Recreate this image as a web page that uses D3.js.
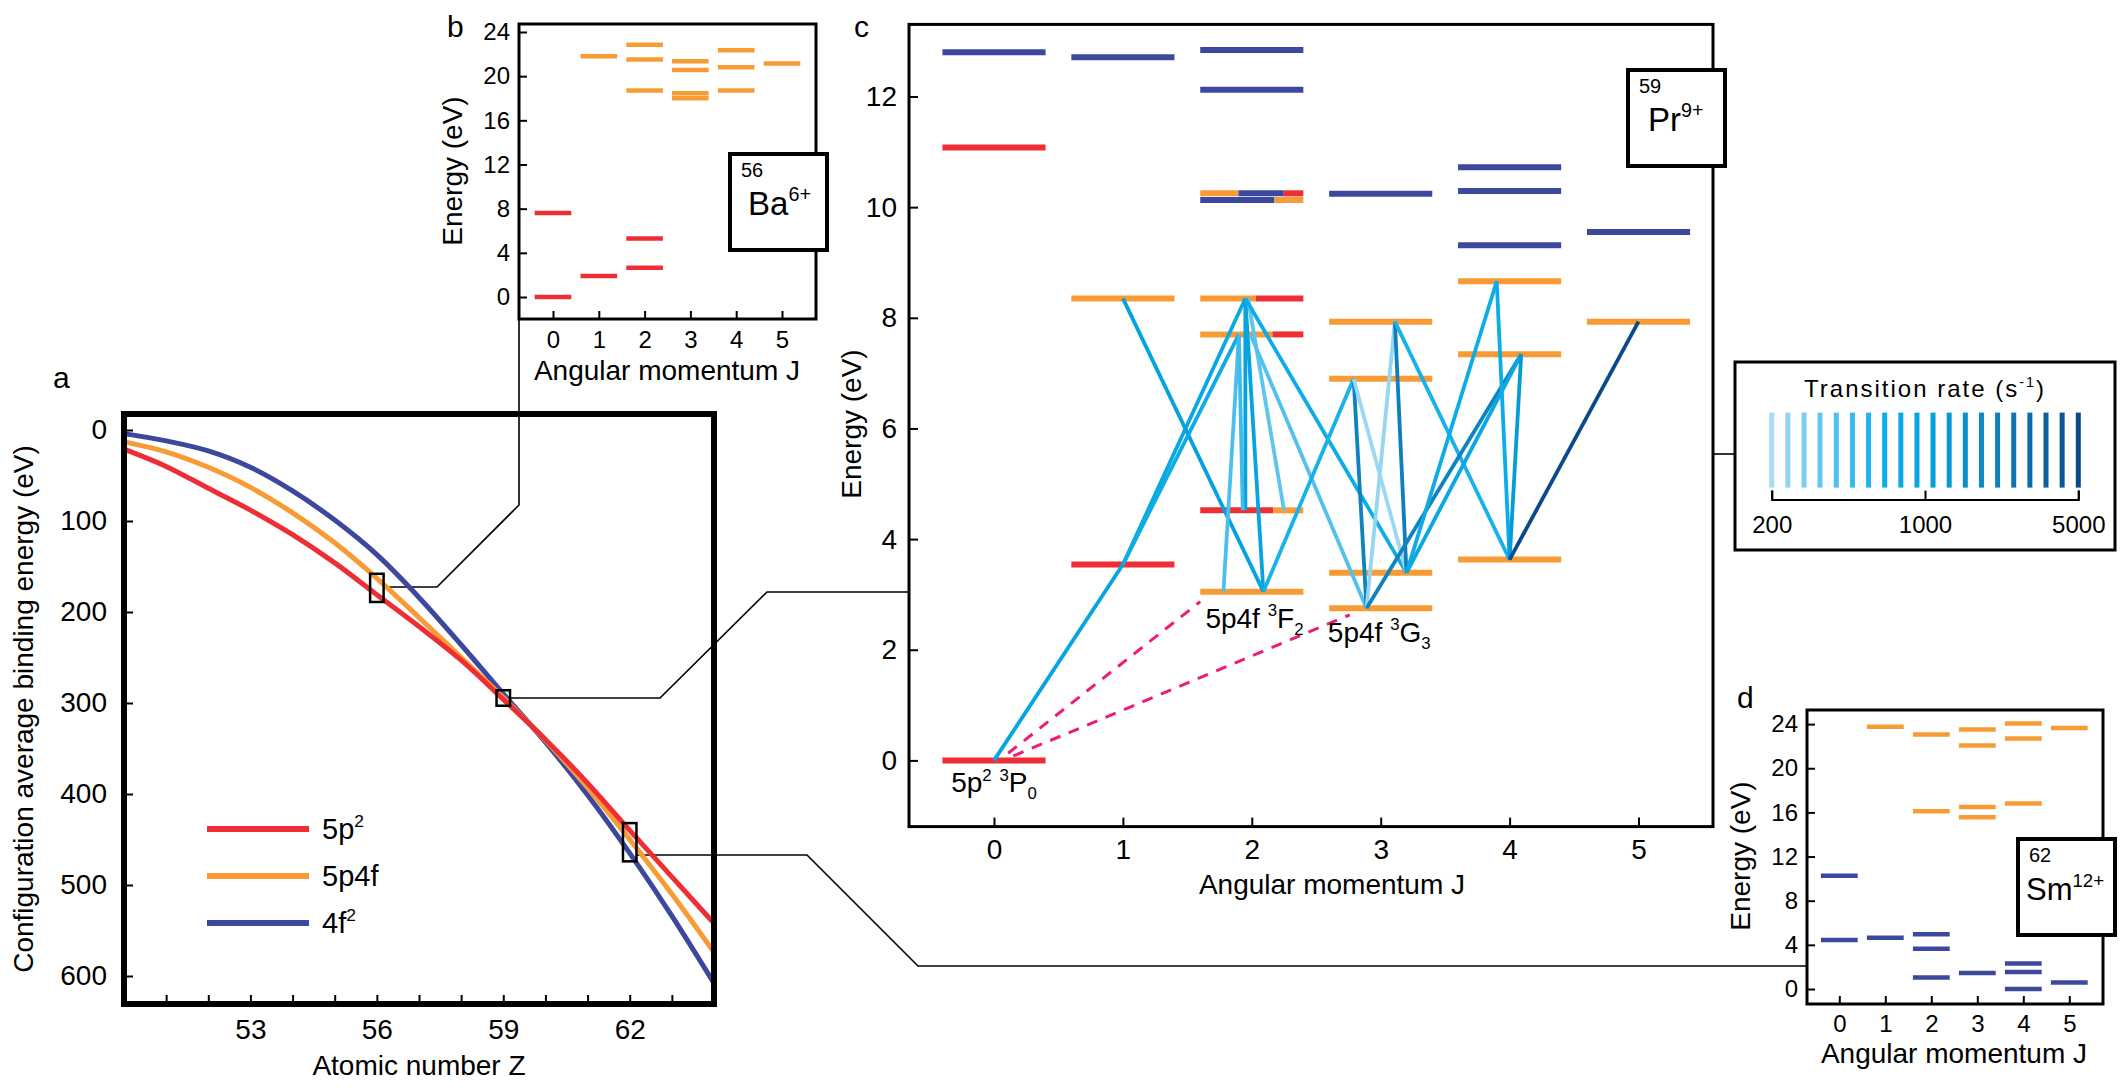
<!DOCTYPE html>
<html>
<head>
<meta charset="utf-8">
<script src="https://cdn.jsdelivr.net/npm/d3@7"></script>
<style>
  body { margin: 0; background: #fff; }
</style>
</head>
<body>
<svg width="2126" height="1088"></svg>
<script>
// ---- data ----

// panel a: configuration average binding energy vs Z
var zValues = [50, 51, 52, 53, 54, 55, 56, 57, 58, 59, 60, 61, 62, 63, 64];
var binding5p2 = [21, 40, 64, 88, 115, 146, 181, 216, 253, 296, 340, 388, 440, 491, 542];
var binding5p4f = [13, 24, 41, 63, 91, 124, 163, 206, 250, 294, 341, 393, 450, 510, 574];
var binding4f2 = [4, 12, 23, 41, 67, 99, 137, 184, 236, 290, 343, 401, 465, 534, 608];
var zTickMarks = [51, 52, 53, 54, 55, 56, 57, 58, 59, 60, 61, 62, 63];
var zTickLabels = [53, 56, 59, 62];
var bindingTicks = [0, 100, 200, 300, 400, 500, 600];
// boxes marking the three ions: [Z, low, high]
var zoomBoxes = [[56, 158, 189], [59, 286, 303], [62, 432, 474]];

// panel b: Ba6+ levels [configuration, J, energy]
var baLevels = [
  ["5p2", 0, 0], ["5p2", 0, 7.6], ["5p2", 1, 1.9], ["5p2", 2, 2.65], ["5p2", 2, 5.3],
  ["5p4f", 1, 21.8], ["5p4f", 2, 22.85], ["5p4f", 2, 21.5], ["5p4f", 2, 18.7],
  ["5p4f", 3, 21.35], ["5p4f", 3, 20.55], ["5p4f", 3, 18.45], ["5p4f", 3, 18.0],
  ["5p4f", 4, 22.35], ["5p4f", 4, 20.8], ["5p4f", 4, 18.7], ["5p4f", 5, 21.15]
];

// panel d: Sm12+ levels
var smLevels = [
  ["4f2", 0, 10.25], ["4f2", 0, 4.45], ["4f2", 1, 4.65], ["4f2", 2, 4.95], ["4f2", 2, 3.65],
  ["4f2", 2, 1.05], ["4f2", 3, 1.45], ["4f2", 4, 2.3], ["4f2", 4, 1.55], ["4f2", 4, 0],
  ["4f2", 5, 0.6],
  ["5p4f", 1, 23.75], ["5p4f", 2, 23.05], ["5p4f", 2, 16.1], ["5p4f", 3, 23.5], ["5p4f", 3, 22.05],
  ["5p4f", 3, 16.5], ["5p4f", 3, 15.55], ["5p4f", 4, 24.05], ["5p4f", 4, 22.7], ["5p4f", 4, 16.8],
  ["5p4f", 5, 23.65]
];
var energyTicksBD = [0, 4, 8, 12, 16, 20, 24];

// panel c: Pr9+ levels, J, energy, configuration shares
var prLevels = [
  {j: 0, e: 12.80, mix: [["4f2", 1]]},
  {j: 0, e: 11.08, mix: [["5p2", 1]]},
  {j: 0, e: 0, mix: [["5p2", 1]]},
  {j: 1, e: 12.71, mix: [["4f2", 1]]},
  {j: 1, e: 8.35, mix: [["5p4f", 1]]},
  {j: 1, e: 3.54, mix: [["5p2", 1]]},
  {j: 2, e: 12.84, mix: [["4f2", 1]]},
  {j: 2, e: 12.12, mix: [["4f2", 1]]},
  {j: 2, e: 10.25, mix: [["5p4f", 0.37], ["4f2", 0.44], ["5p2", 0.19]]},
  {j: 2, e: 10.13, mix: [["4f2", 0.72], ["5p4f", 0.28]]},
  {j: 2, e: 8.35, mix: [["5p4f", 0.54], ["5p2", 0.46]]},
  {j: 2, e: 7.70, mix: [["5p4f", 0.70], ["5p2", 0.30]]},
  {j: 2, e: 4.52, mix: [["5p2", 0.71], ["5p4f", 0.29]]},
  {j: 2, e: 3.05, mix: [["5p4f", 1]]},
  {j: 3, e: 10.24, mix: [["4f2", 1]]},
  {j: 3, e: 7.93, mix: [["5p4f", 1]]},
  {j: 3, e: 6.90, mix: [["5p4f", 1]]},
  {j: 3, e: 3.39, mix: [["5p4f", 1]]},
  {j: 3, e: 2.75, mix: [["5p4f", 1]]},
  {j: 4, e: 10.72, mix: [["4f2", 1]]},
  {j: 4, e: 10.29, mix: [["4f2", 1]]},
  {j: 4, e: 9.31, mix: [["4f2", 1]]},
  {j: 4, e: 8.66, mix: [["5p4f", 1]]},
  {j: 4, e: 7.34, mix: [["5p4f", 1]]},
  {j: 4, e: 3.63, mix: [["5p4f", 1]]},
  {j: 5, e: 9.55, mix: [["4f2", 1]]},
  {j: 5, e: 7.93, mix: [["5p4f", 1]]}
];
var energyTicksC = [0, 2, 4, 6, 8, 10, 12];
var jTicks = [0, 1, 2, 3, 4, 5];

// panel c transitions: [J from, E from, J to, E to, rate (1/s)]
var prTransitions = [
  [0.00, 0.00, 1.00, 3.54, 900],
  [1.00, 3.54, 1.95, 8.35, 800],
  [1.00, 3.54, 1.90, 7.70, 700],
  [1.00, 8.35, 2.09, 3.05, 1000],
  [1.95, 8.35, 1.95, 4.52, 1000],
  [1.95, 8.35, 2.09, 3.05, 900],
  [1.90, 7.70, 1.78, 3.05, 400],
  [1.90, 7.70, 1.93, 4.52, 450],
  [1.97, 8.35, 2.25, 4.52, 350],
  [1.99, 7.70, 2.89, 2.75, 380],
  [1.95, 8.35, 3.20, 3.39, 700],
  [2.09, 3.05, 2.79, 6.90, 600],
  [2.79, 6.90, 2.89, 2.75, 2000],
  [2.79, 6.90, 3.20, 3.39, 220],
  [3.11, 7.93, 2.89, 2.75, 230],
  [3.11, 7.93, 3.20, 3.39, 2200],
  [3.11, 7.93, 4.00, 3.63, 600],
  [2.89, 2.75, 4.09, 7.34, 2000],
  [3.20, 3.39, 3.90, 8.66, 700],
  [3.20, 3.39, 4.09, 7.34, 800],
  [3.90, 8.66, 4.00, 3.63, 700],
  [4.09, 7.34, 4.00, 3.63, 1200],
  [4.00, 3.63, 5.00, 7.93, 5000]
];
// dashed links from the ground state: [J from, E from, J to, E to]
var dashedLinks = [[0.11, 0.13, 1.60, 2.87], [0.15, 0.08, 2.76, 2.63]];

// transition rate legend
var rateSwatches = [200, 237, 281, 332, 394, 467, 553, 655, 776, 919, 1088, 1289, 1527, 1809, 2143, 2538, 3007, 3562, 4220, 5000];
var rateTicks = [200, 1000, 5000];

var confColor = {"5p2": "#ee2e35", "5p4f": "#f89b35", "4f2": "#3c489e"};
var font = '"Liberation Sans", Arial, Helvetica, sans-serif';

var svg = d3.select("svg");

var rateColor = d3.scaleLog()
  .domain([200, 394, 655, 1088, 2143, 5000])
  .range(["#a8dcf4", "#4ec0ec", "#0daee8", "#02a0dc", "#0f80bd", "#0b4a8a"]);

// ---- helpers ----
function frame(x0, y0, x1, y1, w) {
  svg.append("rect")
    .attr("x", x0).attr("y", y0)
    .attr("width", x1 - x0).attr("height", y1 - y0)
    .attr("fill", "none").attr("stroke", "#000").attr("stroke-width", w);
}

function drawAxis(axis, tx, ty, size) {
  var g = svg.append("g")
    .attr("transform", "translate(" + tx + "," + ty + ")")
    .call(axis);
  g.select(".domain").remove();
  g.attr("font-size", size).attr("font-family", font);
  g.selectAll(".tick line").attr("stroke", "#000").attr("stroke-width", 2);
  g.selectAll(".tick text").attr("fill", "#000");
  return g;
}

function label(x, y, txt, size, anchor) {
  return svg.append("text")
    .attr("x", x).attr("y", y)
    .attr("font-family", font).attr("font-size", size)
    .attr("text-anchor", anchor || "start")
    .text(txt);
}

function vLabel(x, y, txt, size) {
  svg.append("text")
    .attr("transform", "translate(" + x + "," + y + ") rotate(-90)")
    .attr("font-family", font).attr("font-size", size)
    .attr("text-anchor", "middle")
    .text(txt);
}

// text with super/subscripts, parts = [[text, "sup"|"sub"|undefined], ...]
function richText(x, y, parts, size, anchor) {
  var t = svg.append("text")
    .attr("x", x).attr("y", y)
    .attr("font-family", font).attr("font-size", size)
    .attr("text-anchor", anchor || "start");
  var shift = 0;
  parts.forEach(function(p) {
    var s = p[1] === "sup" ? -0.42 * size : (p[1] === "sub" ? 0.25 * size : 0);
    t.append("tspan")
      .attr("dy", s - shift)
      .attr("font-size", p[1] ? size * 0.6 : size)
      .text(p[0]);
    shift = s;
  });
  return t;
}

function elementBox(x, y, mass, sym, charge, symX, symSize) {
  svg.append("rect")
    .attr("x", x).attr("y", y).attr("width", 97).attr("height", 96)
    .attr("fill", "#fff").attr("stroke", "#000").attr("stroke-width", 4);
  label(x + 11, y + 23, mass, 20);
  richText(x + symX, y + 61, [[sym], [charge, "sup"]], symSize);
}

function drawLevels(levels, x, y, half, width) {
  var segs = [];
  levels.forEach(function(l) {
    var start = l.j - half;
    l.mix.forEach(function(m) {
      segs.push({x1: start, x2: start + 2 * half * m[1], e: l.e, conf: m[0]});
      start += 2 * half * m[1];
    });
  });
  svg.append("g").selectAll("line")
    .data(segs)
    .enter()
    .append("line")
    .attr("x1", function(d) { return x(d.x1); })
    .attr("x2", function(d) { return x(d.x2); })
    .attr("y1", function(d) { return y(d.e); })
    .attr("y2", function(d) { return y(d.e); })
    .attr("stroke", function(d) { return confColor[d.conf]; })
    .attr("stroke-width", width);
}

function simpleLevels(list) {
  return list.map(function(d) { return {j: d[1], e: d[2], mix: [[d[0], 1]]}; });
}

var intFmt = d3.format("d");

// ---- connector lines (behind everything) ----
var connectors = [
  [[384, 587], [437, 587], [519, 505], [519, 319]],
  [[510, 698], [660, 698], [767, 592], [909, 592]],
  [[636, 855], [807, 855], [918, 966], [1807, 966]],
  [[1713, 454], [1735, 454]]
];
svg.append("g").selectAll("path")
  .data(connectors)
  .enter()
  .append("path")
  .attr("d", d3.line())
  .attr("fill", "none")
  .attr("stroke", "#000")
  .attr("stroke-width", 1.6);

// ---- panel a ----
var xA = d3.scaleLinear().domain([50, 64]).range([124, 714]);
var yA = d3.scaleLinear().domain([0, 600]).range([430, 976]);

var aSeries = [
  {conf: "4f2", values: binding4f2},
  {conf: "5p4f", values: binding5p4f},
  {conf: "5p2", values: binding5p2}
];
var aLine = d3.line()
  .x(function(v, i) { return xA(zValues[i]); })
  .y(function(v) { return yA(v); })
  .curve(d3.curveMonotoneX);

svg.append("g").selectAll("path")
  .data(aSeries)
  .enter()
  .append("path")
  .attr("d", function(d) { return aLine(d.values); })
  .attr("fill", "none")
  .attr("stroke", function(d) { return confColor[d.conf]; })
  .attr("stroke-width", 5);

svg.append("g").selectAll("rect")
  .data(zoomBoxes)
  .enter()
  .append("rect")
  .attr("x", function(d) { return xA(d[0] - 0.16); })
  .attr("y", function(d) { return yA(d[1]); })
  .attr("width", function(d) { return xA(d[0] + 0.16) - xA(d[0] - 0.16); })
  .attr("height", function(d) { return yA(d[2]) - yA(d[1]); })
  .attr("fill", "none")
  .attr("stroke", "#000")
  .attr("stroke-width", 2.5);

frame(124, 414, 714, 1004, 6);
drawAxis(d3.axisLeft(yA).tickValues(bindingTicks).tickSize(-9).tickPadding(17), 124, 0, 28);
drawAxis(d3.axisBottom(xA).tickValues(zTickMarks)
  .tickFormat(function(d) { return zTickLabels.indexOf(d) >= 0 ? d : ""; })
  .tickSize(-9).tickPadding(15), 0, 1004, 28);
label(419, 1075, "Atomic number Z", 28, "middle");
vLabel(33, 709, "Configuration average binding energy (eV)", 28);
label(53, 388, "a", 30);

// legend of panel a
var aLegend = [["5p2", [["5p"], ["2", "sup"]]], ["5p4f", [["5p4f"]]], ["4f2", [["4f"], ["2", "sup"]]]];
aLegend.forEach(function(d, i) {
  var ly = 829 + i * 47;
  svg.append("line")
    .attr("x1", 207).attr("x2", 309).attr("y1", ly).attr("y2", ly)
    .attr("stroke", confColor[d[0]]).attr("stroke-width", 6);
  richText(322, ly + 10, d[1], 29);
});

// ---- panel b ----
var xB = d3.scaleLinear().domain([0, 5]).range([553, 782]);
var yB = d3.scaleLinear().domain([0, 24]).range([297, 32]);
drawLevels(simpleLevels(baLevels), xB, yB, 0.4, 4.5);
frame(519, 24, 816, 319, 3);
drawAxis(d3.axisLeft(yB).tickValues(energyTicksBD).tickSize(-8).tickPadding(9), 519, 0, 24);
drawAxis(d3.axisBottom(xB).tickValues(jTicks).tickFormat(intFmt).tickSize(-8).tickPadding(12), 0, 319, 24);
label(667, 380, "Angular momentum J", 28, "middle");
vLabel(462, 171, "Energy (eV)", 28);
label(447, 37, "b", 30);
elementBox(730, 154, "56", "Ba", "6+", 18, 33);

// ---- panel c ----
var xC = d3.scaleLinear().domain([0, 5]).range([994, 1638.5]);
var yC = d3.scaleLinear().domain([0, 12]).range([760.4, 96.5]);
drawLevels(prLevels, xC, yC, 0.4, 6);

svg.append("g").selectAll("line")
  .data(prTransitions)
  .enter()
  .append("line")
  .attr("x1", function(d) { return xC(d[0]); })
  .attr("y1", function(d) { return yC(d[1]); })
  .attr("x2", function(d) { return xC(d[2]); })
  .attr("y2", function(d) { return yC(d[3]); })
  .attr("stroke", function(d) { return rateColor(d[4]); })
  .attr("stroke-width", 3.8);

svg.append("g").selectAll("line")
  .data(dashedLinks)
  .enter()
  .append("line")
  .attr("x1", function(d) { return xC(d[0]); })
  .attr("y1", function(d) { return yC(d[1]); })
  .attr("x2", function(d) { return xC(d[2]); })
  .attr("y2", function(d) { return yC(d[3]); })
  .attr("stroke", "#ec1c78")
  .attr("stroke-width", 3)
  .attr("stroke-dasharray", "11,9");

frame(909, 24.4, 1713, 826.6, 3);
drawAxis(d3.axisLeft(yC).tickValues(energyTicksC).tickSize(-9).tickPadding(12), 909, 0, 28);
drawAxis(d3.axisBottom(xC).tickValues(jTicks).tickFormat(intFmt).tickSize(-9).tickPadding(13), 0, 826.6, 28);
label(1332, 894, "Angular momentum J", 28, "middle");
vLabel(861, 424, "Energy (eV)", 28);
label(854, 37, "c", 30);
elementBox(1628, 70, "59", "Pr", "9+", 20, 33);

richText(xC(0), yC(0) + 32, [["5p"], ["2", "sup"], [" "], ["3", "sup"], ["P"], ["0", "sub"]], 28, "middle");
richText(xC(1.64), yC(3.05) + 36, [["5p4f "], ["3", "sup"], ["F"], ["2", "sub"]], 28);
richText(xC(2.59), yC(2.75) + 34, [["5p4f "], ["3", "sup"], ["G"], ["3", "sub"]], 28);

// ---- transition rate legend ----
var xL = d3.scaleLog().domain([200, 5000]).range([1771.7, 2078.3]);
frame(1735, 362, 2115, 550, 3);
richText(1925, 397, [["Transition rate (s"], ["-1", "sup"], [")"]], 24, "middle")
  .attr("letter-spacing", 2);
svg.append("g").selectAll("rect")
  .data(rateSwatches)
  .enter()
  .append("rect")
  .attr("x", function(d) { return xL(d) - 2.5; })
  .attr("y", 412.6)
  .attr("width", 5)
  .attr("height", 75)
  .attr("fill", function(d) { return rateColor(d); });
var gL = svg.append("g")
  .attr("transform", "translate(0,499.6)")
  .call(d3.axisBottom(xL).tickValues(rateTicks).tickFormat(intFmt)
    .tickSizeInner(-9).tickSizeOuter(-9).tickPadding(16));
gL.attr("font-size", 24).attr("font-family", font);
gL.select(".domain").attr("stroke", "#000").attr("stroke-width", 2);
gL.selectAll(".tick line").attr("stroke", "#000").attr("stroke-width", 2);
gL.selectAll(".tick text").attr("fill", "#000");

// ---- panel d ----
var xD = d3.scaleLinear().domain([0, 5]).range([1839.3, 2069.3]);
var yD = d3.scaleLinear().domain([0, 24]).range([989, 724.1]);
drawLevels(simpleLevels(smLevels), xD, yD, 0.4, 4.5);
frame(1807, 710, 2103, 1004, 3);
drawAxis(d3.axisLeft(yD).tickValues(energyTicksBD).tickSize(-8).tickPadding(9), 1807, 0, 24);
drawAxis(d3.axisBottom(xD).tickValues(jTicks).tickFormat(intFmt).tickSize(-8).tickPadding(11), 0, 1004, 24);
label(1954, 1063, "Angular momentum J", 28, "middle");
vLabel(1750, 856, "Energy (eV)", 28);
label(1737, 708, "d", 30);
elementBox(2018, 839, "62", "Sm", "12+", 8, 31);
</script>
</body>
</html>
